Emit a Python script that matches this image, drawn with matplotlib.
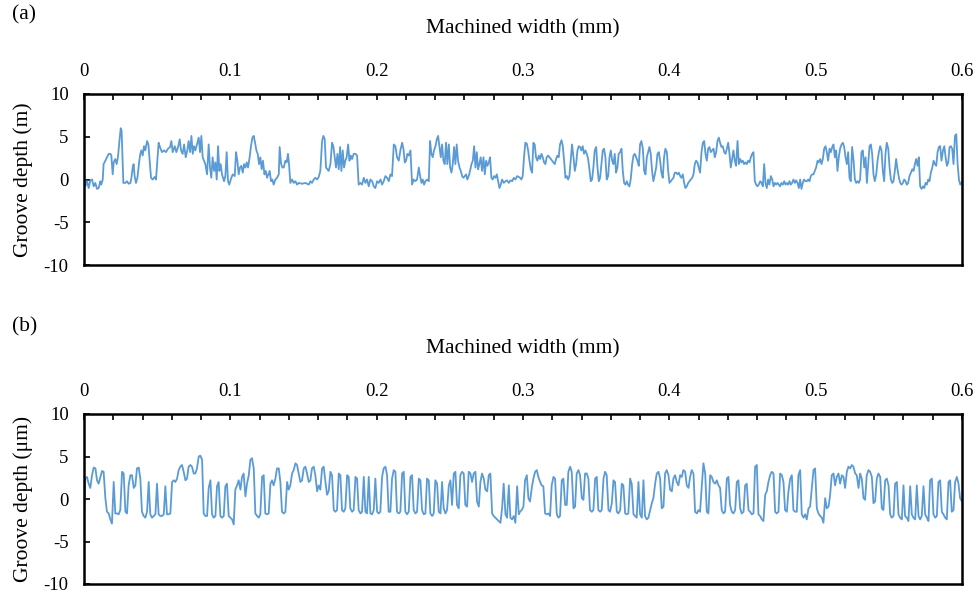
#!/usr/bin/env python3
"""Groove depth profiles across the machined width, panels (a) and (b)."""

import matplotlib

matplotlib.use("Agg")
import matplotlib.pyplot as plt
from matplotlib.ticker import FixedLocator, MultipleLocator

plt.rcParams["font.family"] = ["Liberation Serif", "DejaVu Serif"]
plt.rcParams["axes.unicode_minus"] = False

# positions are in micrometres along the machined width, depths in micrometres
a_x_um = [
    0.0, 0.9, 2.1, 3.2, 4.3, 5.5, 6.6, 7.7, 8.9, 10.0,
    11.2, 11.8, 12.8, 13.4, 14.6, 15.7, 16.9, 18.0, 18.7, 19.6,
    20.3, 21.4, 22.3, 23.2, 24.2, 25.1, 25.7, 26.4, 26.9, 28.3,
    29.4, 30.5, 31.7, 32.4, 33.3, 33.9, 34.6, 35.5, 36.5, 37.8,
    38.5, 39.2, 40.1, 41.0, 41.9, 43.1, 44.0, 44.9, 45.8, 46.9,
    48.3, 49.2, 50.1, 51.0, 51.9, 53.3, 54.7, 56.0, 57.4, 58.8,
    59.7, 60.6, 62.0, 63.1, 64.3, 65.4, 66.3, 67.4, 68.4, 69.5,
    70.6, 71.5, 72.5, 73.4, 74.3, 75.2, 76.1, 77.2, 78.4, 79.3,
    80.2, 81.1, 82.0, 82.9, 84.1, 85.2, 86.1, 87.0, 87.9, 88.9,
    89.8, 90.7, 91.6, 92.5, 93.4, 94.3, 95.7, 96.6, 97.5, 98.4,
    99.3, 100.3, 101.6, 103.0, 103.9, 104.8, 105.7, 106.6, 107.5, 108.5,
    109.4, 110.3, 111.2, 112.1, 113.2, 114.1, 115.1, 116.0, 116.9, 117.8,
    118.7, 119.6, 120.5, 121.4, 122.3, 123.3, 124.2, 125.1, 126.0, 126.9,
    127.8, 128.7, 129.6, 130.8, 131.9, 133.1, 133.7, 134.7, 135.6, 136.5,
    137.6, 138.5, 139.4, 140.1, 141.0, 142.2, 143.3, 144.5, 145.6, 146.7,
    149.0, 151.3, 153.6, 154.7, 155.8, 157.0, 158.1, 159.3, 160.4, 161.5,
    162.7, 163.6, 164.5, 165.4, 166.3, 167.2, 168.4, 169.5, 170.4, 171.3,
    172.2, 173.2, 174.1, 175.0, 175.9, 176.8, 177.7, 178.6, 179.5, 180.5,
    181.4, 182.3, 183.2, 184.3, 185.5, 186.6, 187.7, 188.9, 190.0, 191.2,
    192.3, 193.4, 194.6, 195.7, 196.9, 198.0, 199.1, 200.3, 201.4, 202.6,
    203.7, 204.8, 206.0, 207.1, 208.3, 209.4, 210.5, 211.7, 212.8, 213.9,
    215.1, 216.2, 217.4, 218.3, 219.2, 220.1, 221.0, 221.9, 223.1, 224.2,
    225.3, 226.5, 227.6, 228.8, 229.7, 230.6, 231.5, 232.4, 233.3, 234.5,
    235.6, 236.5, 237.4, 238.3, 239.2, 240.2, 241.1, 242.0, 242.9, 243.8,
    244.7, 245.6, 246.5, 247.4, 248.3, 249.3, 250.2, 251.1, 252.0, 252.9,
    253.8, 254.7, 255.6, 256.6, 257.5, 258.4, 259.3, 260.2, 261.1, 262.0,
    262.9, 263.8, 264.8, 265.7, 266.6, 267.5, 268.4, 269.3, 270.2, 271.1,
    272.0, 273.0, 273.9, 274.8, 275.7, 276.6, 277.5, 278.4, 279.3, 280.2,
    281.2, 282.1, 283.0, 283.9, 284.8, 285.7, 286.9, 288.0, 289.1, 290.3,
    291.4, 292.6, 293.7, 294.8, 296.0, 297.1,
    298.0, 298.9, 299.8, 300.7, 301.6, 302.6, 303.5, 304.4, 305.3, 306.2,
    307.1, 308.0, 308.9, 309.8, 310.8, 311.7, 312.6, 313.5, 314.4, 315.3,
    316.2, 317.1, 318.1, 319.0, 319.9, 320.8, 321.7, 322.6, 323.5, 324.4,
    325.3, 326.3, 327.2, 328.1, 329.0, 329.9, 330.8, 331.7, 332.6, 333.5,
    334.5, 335.4, 336.3, 337.2, 338.1, 339.0, 339.9, 340.8, 341.7, 342.7,
    343.6, 344.5, 345.4, 346.3, 347.2, 348.1, 349.0, 350.0, 350.9, 351.8,
    352.7, 353.6, 354.5, 355.4, 356.3, 357.2, 358.2, 359.1, 360.0, 360.9,
    361.8, 362.7, 363.6, 364.5, 365.4, 366.4, 367.3, 368.2, 369.1, 370.0,
    370.9, 371.8, 372.7, 373.6, 374.6, 375.5, 376.4, 377.3, 378.2, 379.1,
    380.0, 380.9, 381.9, 382.8, 383.7, 384.6, 385.5, 386.4, 387.3, 388.2,
    389.1, 390.1, 391.0, 391.9, 392.8, 393.7, 394.6, 395.5, 396.4, 397.3,
    398.3, 399.2, 400.1, 401.0, 401.9, 402.8, 403.7, 404.6, 405.6, 406.5,
    407.4, 408.3, 409.2, 410.1, 411.0, 411.9, 412.9, 413.8, 414.7, 415.6,
    416.5, 417.4, 418.3, 419.2, 420.1, 421.0, 422.0, 422.9, 423.8, 424.7,
    425.6, 426.5, 427.4, 428.3, 429.2, 430.2, 431.1, 432.0, 432.9, 433.8,
    434.7, 435.6, 436.5, 437.5, 438.4, 439.3, 440.2, 441.1, 442.0, 442.9,
    443.8, 444.7, 445.6, 446.6, 447.5, 448.4, 449.3, 450.2, 451.1, 452.0,
    452.9, 453.9, 454.8, 455.7, 456.6, 457.5, 458.4, 459.3, 460.2, 461.1,
    462.1, 463.0, 463.9, 464.8, 465.7, 466.6, 467.5, 468.4, 469.4, 470.3,
    471.2, 472.1, 473.0, 473.9, 474.8, 475.7, 476.6, 477.6, 478.5, 479.4,
    480.3, 481.2, 482.1, 483.0, 483.9, 484.8, 485.8, 486.7, 487.6, 488.5,
    489.4, 490.3, 491.2, 492.1, 493.0, 494.0, 494.9, 495.8, 496.7, 497.6,
    498.5, 499.4, 500.3, 501.3, 502.2, 503.1, 504.0, 504.9, 505.8, 506.7,
    507.6, 508.5, 509.5, 510.4, 511.3, 512.2, 513.1, 514.0, 514.9, 515.8,
    516.7, 517.7, 518.6, 519.5, 520.4, 521.3, 522.2, 523.1, 524.0, 524.9,
    525.9, 526.8, 527.7, 528.6, 529.5, 530.4, 531.3, 532.2, 533.2, 534.1,
    535.0, 535.9, 536.8, 537.7, 538.6, 539.5, 540.4, 541.4, 542.3, 543.2,
    544.1, 545.0, 545.9, 546.8, 547.7, 548.6, 549.6, 550.5, 551.4, 552.3,
    553.2, 554.1, 555.0, 555.9, 556.9, 557.8, 558.7, 559.6, 560.5, 561.4,
    562.3, 563.2, 564.1, 565.1, 566.0, 566.9, 567.8, 568.7, 569.6, 570.5,
    571.4, 572.4, 573.3, 574.2, 575.1, 576.0, 576.9, 577.8, 578.7, 579.7,
    580.6, 581.5, 582.4, 583.3, 584.2, 585.1, 586.0, 587.0, 587.9, 588.8,
    589.7, 590.6, 591.5, 592.4, 593.3, 594.2, 595.2, 596.1, 597.0, 597.9,
    598.8, 600.0,
]
a_depth = [
    0.6, -0.8, -0.2, -1.0, -0.1, 0.0, -0.8, -0.4, -1.1, -1.0,
    -0.2, -0.6, 0.0, 1.8, 2.2, 2.6, 3.0, 3.0, 2.8, 0.6,
    2.0, 2.4, 1.8, 2.6, 4.5, 6.0, 5.7, 2.2, -0.4, -0.4,
    -0.2, -0.5, -0.4, 0.2, 1.4, 1.8, 0.4, -0.4, 0.2, 2.2,
    3.0, 3.4, 2.8, 3.9, 3.4, 4.5, 4.1, 2.2, 0.2, 0.0,
    0.3, 0.0, 2.2, 4.3, 3.8, 3.2, 3.4, 3.2, 3.6, 3.8,
    4.5, 3.2, 3.9, 3.2, 3.8, 4.7, 3.4, 3.0, 4.1, 2.6,
    3.4, 4.5, 3.2, 5.1, 3.0, 3.9, 3.4, 4.1, 4.9, 3.2,
    5.1, 2.6, 2.2, 1.8, 0.6, 4.1, 1.4, 0.2, 2.6, 1.0,
    2.0, 0.0, 3.9, 1.0, 1.8, 0.6, -0.2, 0.4, 3.2, -0.2,
    -0.6, 0.0, 0.6, 0.4, 3.2, 2.2, 0.6, 1.4, 1.6, 0.8,
    1.8, 1.4, 2.0, 1.4, 2.6, 3.9, 4.9, 5.1, 4.3, 3.4,
    3.0, 1.8, 2.6, 1.2, 2.2, 0.6, 1.0, 0.2, 0.6, 1.0,
    -0.2, 0.0, -0.6, 0.0, 0.2, 0.6, 3.8, 1.8, 1.4, 1.4,
    2.2, 2.0, 3.0, 1.8, -0.4, 0.0, -0.4, -0.2, -0.6, -0.4,
    -0.5, -0.4, -0.6, -0.2, -0.4, 0.0, 0.2, 0.0, 0.3, 1.0,
    4.5, 5.1, 4.7, 1.4, 1.2, 1.0, 1.8, 4.3, 3.9, 2.6,
    1.4, 3.0, 1.2, 3.8, 1.0, 3.4, 1.4, 2.2, 2.6, 4.1,
    2.2, 2.8, 2.4, 3.0, 3.0, 2.8, -0.6, -0.4, -0.6, 0.2,
    -0.4, 0.0, -0.8, 0.0, -0.2, -0.8, -1.0, -0.2, -0.4, 0.0,
    -0.6, -0.2, 0.4, 0.2, -0.2, 0.6, 0.4, 4.1, 3.9, 2.6,
    2.2, 3.4, 4.3, 3.6, 2.0, 2.2, 3.0, 2.8, 3.4, -0.6,
    0.0, -0.2, 0.0, 1.4, 0.4, -0.4, 0.0, -0.6, -0.2, 0.0,
    -0.2, 4.5, 3.0, 2.6, 3.4, 3.9, 4.7, 5.1, 3.9, 2.6,
    4.1, 2.2, 1.8, 4.3, 1.8, 4.1, 1.4, 0.8, 1.8, 3.8,
    1.8, 4.1, 2.2, 1.4, 1.0, 0.4, 0.2, 0.4, 0.6, 0.0,
    0.4, 1.0, 1.8, 2.2, 3.9, 1.4, 3.2, 1.2, 1.8, 2.6,
    1.0, 2.6, 0.6, 2.2, 1.6, 2.0, 2.6, 0.2, 0.0, 0.4,
    0.2, 0.6, -0.2, -1.0, -0.6, 0.0, -0.4, -0.2, -0.1, -0.4,
    -0.1, -0.2, 0.2, 0.0, 0.4, 0.3,
    0.2, 0.0, 0.4, 2.6, 4.3, 4.2, 3.4, 2.2, 1.2, 0.8,
    4.3, 4.1, 2.6, 2.2, 2.8, 2.4, 3.0, 2.6, 2.0, 1.8,
    2.6, 2.8, 2.6, 2.4, 2.2, 2.0, 1.8, 2.4, 2.8, 2.6,
    4.1, 4.6, 3.9, 2.2, 0.2, 0.4, 0.0, 0.4, 2.2, 4.1,
    2.6, 1.0, 1.8, 3.4, 3.9, 3.8, 3.4, 3.9, 3.0, 3.4,
    3.0, 2.4, 1.2, -0.2, 0.0, 1.4, 3.4, 3.8, 1.4, -0.2,
    0.2, 1.8, 3.4, 3.6, 2.6, 0.0, 0.4, 2.6, 3.4, 2.2,
    1.8, 3.0, 0.8, 1.4, 3.0, 3.2, 3.6, 1.0, -0.4, -0.6,
    -0.2, -0.6, -0.8, 0.0, 1.8, 2.8, 3.0, 2.6, 2.2, 1.6,
    4.1, 4.5, 3.6, 1.0, 0.6, 2.6, 3.2, 3.8, 3.0, 1.0,
    -0.2, 0.6, 1.4, 3.0, 3.2, 2.2, 0.8, 0.2, 2.6, 3.6,
    3.2, 1.0, -0.4, -0.2, 0.0, 0.2, 0.8, 0.8, 0.6, 0.8,
    0.4, 0.2, 0.6, -0.4, -1.0, -0.8, -0.4, -0.2, 0.0, 0.2,
    0.6, 1.8, 2.2, 2.0, 1.4, 0.8, 3.2, 4.3, 4.5, 3.0,
    2.2, 3.6, 3.8, 3.2, 3.4, 3.6, 2.6, 3.2, 4.5, 4.9,
    4.3, 3.8, 3.9, 3.2, 3.0, 3.6, 4.3, 3.0, 1.4, 2.4,
    3.4, 2.2, 1.6, 4.5, 1.8, 2.4, 2.0, 2.2, 1.8, 2.0,
    1.8, 2.2, 2.0, 2.6, 3.0, 3.2, -0.2, -0.6, -0.8, -0.6,
    -0.2, -0.4, -0.8, 1.8, -0.4, -1.0, 0.0, -0.6, 0.4, 0.0,
    -0.8, -0.4, -0.6, -0.4, -0.6, -0.8, -0.4, -0.6, -0.2, -0.6,
    -0.4, -0.6, -0.2, -0.6, -0.4, 0.0, -0.4, -0.1, -0.4, -1.0,
    0.0, -1.1, -0.4, 0.0, -0.2, -0.2, 0.0, -0.2, 0.4, 0.6,
    0.6, 1.0, 1.4, 2.2, 2.0, 2.4, 1.8, 2.4, 3.6, 3.9,
    3.2, 2.2, 3.6, 3.2, 3.8, 4.1, 2.6, 3.4, 1.0, 2.6,
    3.6, 4.1, 4.3, 3.8, 2.6, 1.8, 3.2, 0.2, -0.2, 3.8,
    2.2, 0.0, -0.4, -0.2, -0.4, 0.0, 3.2, 3.4, 1.4, 2.6,
    -0.4, 1.8, 3.9, 4.1, 3.0, 0.6, -0.2, 0.6, 2.2, 3.2,
    3.9, 3.4, 1.0, -0.2, 3.0, 4.3, 3.6, 1.4, 0.0, -0.4,
    -0.2, 1.0, 2.4, 1.2, 0.2, -0.4, -0.6, -0.4, 0.0, -0.2,
    -0.6, -0.4, 0.4, 0.8, 1.2, 1.0, 1.8, 2.4, 1.6, 2.6,
    -0.8, -1.1, -0.8, -1.0, -0.4, -0.6, 0.0, -0.2, 0.8, 1.4,
    2.2, 1.8, 1.6, 3.2, 3.8, 3.9, 2.2, 3.4, 3.9, 2.6,
    1.6, 2.0, 3.8, 3.9, 3.6, 1.8, 5.1, 5.3, 1.8, 0.0,
    -0.6, -0.3,
]

b_x_um = [
    0.0, 0.9, 2.0, 3.2, 4.3, 5.5, 6.6, 7.8, 8.9, 10.0,
    11.2, 12.3, 13.4, 14.6, 15.7, 16.9, 18.0, 19.1, 20.3, 21.4,
    22.6, 23.7, 24.8, 26.0, 27.1, 28.3, 29.4, 30.5, 31.7, 32.8,
    34.0, 35.1, 36.2, 37.4, 38.5, 39.6, 40.8, 41.9, 43.1, 44.2,
    45.3, 46.5, 47.6, 48.8, 49.9, 51.0, 52.2, 53.3, 54.5, 55.6,
    56.7, 57.9, 59.0, 60.2, 61.3, 62.4, 63.6, 64.7, 65.8, 67.0,
    68.1, 69.3, 70.4, 71.5, 72.7, 73.8, 75.0, 76.1, 77.2, 78.4,
    79.5, 80.7, 81.8, 82.9, 84.1, 85.2, 86.4, 87.5, 88.6, 89.8,
    90.9, 92.0, 93.2, 94.3, 95.5, 96.6, 97.7, 98.9, 100.0, 101.2,
    102.3, 103.4, 104.6, 105.7, 106.9, 108.0, 109.1, 110.3, 111.4, 112.6,
    113.7, 114.8, 116.0, 117.1, 118.3, 119.4, 120.5, 121.7, 122.8, 123.9,
    125.1, 126.2, 127.4, 128.5, 129.6, 130.8, 131.9, 133.1, 134.2, 135.3,
    136.5, 137.6, 138.8, 139.9, 141.0, 142.2, 143.3, 144.5, 145.6, 146.7,
    147.9, 149.0, 150.2, 151.3, 152.4, 153.6, 154.7, 155.8, 157.0, 158.1,
    159.3, 160.4, 161.5, 162.7, 163.8, 165.0, 166.1, 167.2, 168.4, 169.5,
    170.7, 171.8, 172.9, 174.1, 175.2, 176.3, 177.5, 178.6, 179.8, 180.9,
    182.0, 183.2, 184.3, 185.5, 186.6, 187.7, 188.9, 190.0, 191.2, 192.3,
    193.4, 194.6, 195.7, 196.9, 198.0, 199.1, 200.3, 201.4, 202.5, 203.7,
    204.8, 206.0, 207.1, 208.2, 209.4, 210.5, 211.7, 212.8, 213.9, 215.1,
    216.2, 217.4, 218.5, 219.6, 220.8, 221.9, 223.1, 224.2, 225.3, 226.5,
    227.6, 228.8, 229.9, 231.0, 232.2, 233.3, 234.4, 235.6, 236.7, 237.9,
    239.0, 240.1, 241.3, 242.4, 243.6, 244.7, 245.8, 247.0, 248.1, 249.3,
    250.4, 251.5, 252.7, 253.8, 254.9, 256.1, 257.2, 258.4, 259.5, 260.6,
    261.8, 262.9, 264.1, 265.2, 266.3, 267.5, 268.6, 269.8, 270.9, 272.0,
    273.2, 274.3, 275.5, 276.6, 277.7, 278.9, 280.0, 281.1, 282.3, 283.4,
    284.6, 285.7, 286.8, 288.0, 289.1, 290.3, 291.4, 292.5, 293.7, 294.8,
    296.0, 297.1,
    298.0, 299.1, 300.3, 301.4, 302.6, 303.7, 304.8, 306.0, 307.1, 308.3,
    309.4, 310.5, 311.7, 312.8, 313.9, 315.1, 316.2, 317.4, 318.5, 319.6,
    320.8, 321.9, 323.1, 324.2, 325.3, 326.5, 327.6, 328.8, 329.9, 331.0,
    332.2, 333.3, 334.5, 335.6, 336.7, 337.9, 339.0, 340.2, 341.3, 342.4,
    343.6, 344.7, 345.8, 347.0, 348.1, 349.3, 350.4, 351.5, 352.7, 353.8,
    355.0, 356.1, 357.2, 358.4, 359.5, 360.7, 361.8, 362.9, 364.1, 365.2,
    366.4, 367.5, 368.6, 369.8, 370.9, 372.0, 373.2, 374.3, 375.5, 376.6,
    377.7, 378.9, 380.0, 381.2, 382.3, 383.4, 384.6, 385.7, 386.9, 388.0,
    389.1, 390.3, 391.4, 392.6, 393.7, 394.8, 396.0, 397.1, 398.2, 399.4,
    400.5, 401.7, 402.8, 403.9, 405.1, 406.2, 407.4, 408.5, 409.6, 410.8,
    411.9, 413.1, 414.2, 415.3, 416.5, 417.6, 418.8, 419.9, 421.0, 422.2,
    423.3, 424.5, 425.6, 426.7, 427.9, 429.0, 430.1, 431.3, 432.4, 433.6,
    434.7, 435.8, 437.0, 438.1, 439.3, 440.4, 441.5, 442.7, 443.8, 445.0,
    446.1, 447.2, 448.4, 449.5, 450.7, 451.8, 452.9, 454.1, 455.2, 456.3,
    457.5, 458.6, 459.8, 460.9, 462.0, 463.2, 464.3, 465.5, 466.6, 467.7,
    468.9, 470.0, 471.2, 472.3, 473.4, 474.6, 475.7, 476.9, 478.0, 479.1,
    480.3, 481.4, 482.6, 483.7, 484.8, 486.0, 487.1, 488.2, 489.4, 490.5,
    491.7, 492.8, 493.9, 495.1, 496.2, 497.4, 498.5, 499.6, 500.8, 501.9,
    503.1, 504.2, 505.3, 506.5, 507.6, 508.8, 509.9, 511.0, 512.2, 513.3,
    514.4, 515.6, 516.7, 517.9, 519.0, 520.1, 521.3, 522.4, 523.6, 524.7,
    525.8, 527.0, 528.1, 529.3, 530.4, 531.5, 532.7, 533.8, 534.9, 536.1,
    537.2, 538.4, 539.5, 540.6, 541.8, 542.9, 544.1, 545.2, 546.3, 547.5,
    548.6, 549.8, 550.9, 552.0, 553.2, 554.3, 555.5, 556.6, 557.7, 558.9,
    560.0, 561.1, 562.3, 563.4, 564.6, 565.7, 566.8, 568.0, 569.1, 570.3,
    571.4, 572.5, 573.7, 574.8, 576.0, 577.1, 578.2, 579.4, 580.5, 581.7,
    582.8, 583.9, 585.1, 586.2, 587.3, 588.5, 589.6, 590.8, 591.9, 593.0,
    594.2, 595.3, 596.5, 597.6, 598.7, 600.0,
]
b_depth = [
    -2.0, 2.4, 2.6, 1.8, 1.3, 2.8, 3.7, 3.6, 2.2, 1.8,
    2.6, 3.3, 3.2, 0.1, -1.5, -1.7, -2.4, -2.9, 2.0, -1.7,
    -1.7, -1.8, -1.3, 3.2, 3.0, -1.5, -1.7, 1.6, 2.8, 2.8,
    1.3, 1.6, 3.6, 3.7, 2.4, -1.5, -2.0, -2.2, -1.5, 2.0,
    -1.8, -2.2, -2.0, -1.8, 1.8, -1.8, -2.0, -2.0, -1.8, 1.5,
    -1.8, -1.8, -1.7, 2.0, 2.2, 2.0, 2.4, 3.4, 3.8, 4.0,
    3.2, 2.2, 2.4, 3.8, 4.0, 3.8, 3.0, 3.0, 3.6, 5.0,
    5.1, 4.6, -1.7, -2.0, -2.0, 1.3, 2.2, -1.8, -2.2, -2.0,
    1.5, 2.0, -2.0, -2.2, -2.0, 1.5, 1.8, -2.0, -2.2, -2.4,
    -3.0, 1.1, 1.6, 2.2, 1.1, 2.6, 3.0, 0.3, 1.8, 2.8,
    4.6, 4.8, 3.6, -1.7, -2.0, -2.2, -1.8, 2.6, 2.8, -1.7,
    -1.8, -1.7, 1.8, 2.2, 1.6, 2.4, 3.6, 3.6, 2.0, -1.5,
    -1.7, -1.5, 2.0, 1.1, 1.6, 3.0, 3.4, 4.2, 4.0, 3.0,
    2.0, 2.2, 3.6, 3.8, 3.0, 2.0, 2.2, 3.6, 3.8, 2.8,
    0.9, 1.6, 1.1, 3.6, 3.8, 2.0, 0.5, 0.9, 3.2, 2.8,
    -1.3, -1.5, -1.3, 3.0, 2.8, -1.3, -1.5, -1.1, 2.8, 2.6,
    -1.1, -1.5, -1.3, 2.6, 2.4, -1.3, -1.7, -1.5, 2.6, -1.5,
    -1.7, 2.6, -1.7, -1.8, -1.3, 2.4, -1.5, -1.7, -1.5, 2.6,
    3.6, 3.8, 2.8, -1.5, -1.5, 2.4, 3.4, 3.2, -1.5, -1.7,
    -1.5, 3.0, 3.2, -1.5, -1.8, -1.5, 2.6, 2.8, -1.3, -1.7,
    -1.5, 2.4, 2.2, -1.3, -1.8, -1.7, 2.4, 2.2, -1.7, -2.0,
    -1.7, 2.2, 1.8, -1.5, -1.7, 2.0, -1.1, -1.7, -1.3, 1.6,
    2.2, -0.7, 3.0, 3.2, -0.7, -1.1, 2.8, 3.2, 3.0, -0.7,
    -0.9, 3.2, 3.0, 2.0, 3.0, 3.2, -0.3, -0.9, 2.0, 3.0,
    2.4, 1.1, 0.9, 2.8, 3.0, -1.7, -2.0, -2.2, -2.4, -2.6,
    -2.8, -1.1, 1.8, -1.8, -2.2, 1.6, -2.2, -2.4, -2.0, -2.8,
    1.5, -1.8,
    -1.5, -1.3, -0.9, 2.2, 2.8, 0.1, -0.3, 1.3, 2.4, 3.2,
    3.4, 2.6, 2.0, 1.6, 1.5, -1.7, -1.8, -1.7, -2.0, 1.6,
    2.6, 2.4, -1.8, -2.2, -2.0, 2.2, 2.4, -0.7, -0.7, 3.2,
    3.8, 3.2, -1.1, -0.9, 3.0, 3.4, 2.8, 0.1, -0.1, 3.0,
    3.0, 2.4, -1.3, -1.5, -1.3, 2.4, 2.6, -1.3, -1.5, -1.3,
    2.4, 3.2, 2.8, -1.3, -1.5, -0.5, 2.2, 2.0, -1.5, -1.7,
    -1.3, 1.8, 1.6, -1.7, -1.8, -1.7, 2.4, 1.8, -1.8, -2.0,
    -2.2, 2.0, -1.8, -2.2, 2.2, -2.0, -2.4, -2.2, -1.3, -0.5,
    0.1, 1.8, 3.0, 3.2, 2.4, -1.1, -0.9, 3.0, 3.4, 2.8,
    1.1, 0.9, 2.4, 2.8, 2.0, 1.6, 2.8, 2.6, 3.4, 3.2,
    1.6, 1.3, 2.6, 3.4, 3.0, -1.5, -1.7, -1.3, -1.5, 1.6,
    4.2, 3.0, -1.5, -1.7, 2.8, 2.6, 2.0, 1.8, 2.2, 1.6,
    1.3, -1.3, -1.7, -1.5, 2.4, 2.6, -0.7, -1.5, -1.7, -1.3,
    2.0, 2.2, -1.1, -1.7, -1.5, 1.6, 1.8, -1.3, -1.5, -1.8,
    -1.7, 3.8, 4.0, -1.8, -2.0, -2.4, -2.6, 0.5, 0.9, 2.0,
    2.8, 3.2, 3.0, -1.5, -1.7, -1.5, 3.0, 2.8, 2.0, -1.3,
    -1.5, 0.9, 2.4, 2.8, -1.3, -1.5, -1.5, 2.8, 3.4, -1.8,
    -2.2, -1.8, -2.4, -1.1, -0.9, 1.3, 3.4, 3.6, -1.1, -1.7,
    -2.0, -2.2, -2.8, 0.1, -1.1, -0.9, 0.5, 2.8, 3.0, 1.6,
    2.6, 3.0, 1.8, 2.8, 2.6, 1.3, 3.2, 3.8, 3.6, 4.0,
    3.8, 3.0, 2.8, 1.3, 3.0, 2.4, 0.1, -0.1, 2.8, 3.4,
    3.2, 2.6, -0.5, -0.3, 2.4, 3.0, 2.6, -1.1, -1.3, 2.2,
    2.4, 1.6, -1.8, -2.2, -2.0, 1.8, 2.0, -1.8, -2.2, -2.4,
    1.6, -2.0, -2.2, -2.6, 1.5, -1.8, -2.2, -2.4, 1.6, -2.0,
    -2.4, -2.0, 1.5, -1.8, -2.2, -2.6, 2.2, 2.4, -1.8, -2.2,
    -2.0, 2.0, 2.2, -1.5, -1.8, -2.2, -2.4, 2.0, 2.2, -1.5,
    -1.3, 2.0, 2.6, 1.8, 0.1, -0.3,
]

x_label_ticks = [0, 0.1, 0.2, 0.3, 0.4, 0.5, 0.6]
y_ticks = [-10, -5, 0, 5, 10]

LINE_COLOR = "#5B9BD5"
FIG_W, FIG_H = 975, 594


def style_panel(ax, ylabel):
    ax.set_xlim(0, 0.6)
    ax.set_ylim(-10, 10)
    ax.xaxis.tick_top()
    ax.xaxis.set_label_position("top")
    ax.xaxis.set_major_locator(FixedLocator(x_label_ticks))
    ax.xaxis.set_major_formatter(lambda v, pos: f"{v:g}")
    ax.xaxis.set_minor_locator(MultipleLocator(0.02))
    ax.yaxis.set_major_locator(FixedLocator(y_ticks))
    ax.yaxis.set_major_formatter(lambda v, pos: f"{v:g}")

    ax.tick_params(axis="x", which="both", direction="in", top=True, bottom=False,
                   length=4, width=1.2, labelsize=13.5, pad=10)
    ax.tick_params(axis="y", which="both", direction="in", left=True, right=False,
                   length=4, width=1.2, labelsize=13.5, pad=11)

    for spine in ax.spines.values():
        spine.set_linewidth(1.8)
        spine.set_color("black")

    ax.set_xlabel("Machined width (mm)", fontsize=15.5, labelpad=21)
    ax.set_ylabel(ylabel, fontsize=15.5, labelpad=8)


fig = plt.figure(figsize=(FIG_W / 100, FIG_H / 100), dpi=100)

ax_a = fig.add_axes([84 / FIG_W, 1 - 265 / FIG_H, 878 / FIG_W, 171 / FIG_H])
ax_b = fig.add_axes([84 / FIG_W, 1 - 584 / FIG_H, 878 / FIG_W, 170 / FIG_H])

ax_a.plot([v / 1000 for v in a_x_um], a_depth, color=LINE_COLOR, linewidth=1.3)
ax_b.plot([v / 1000 for v in b_x_um], b_depth, color=LINE_COLOR, linewidth=1.3)

style_panel(ax_a, "Groove depth (m)")
style_panel(ax_b, "Groove depth (\u03bcm)")

fig.text(12 / FIG_W, 1 - 15 / FIG_H, "(a)", fontsize=15.5, ha="left", va="center")
fig.text(12 / FIG_W, 1 - 327 / FIG_H, "(b)", fontsize=15.5, ha="left", va="center")

fig.savefig("out.png", dpi=100)
